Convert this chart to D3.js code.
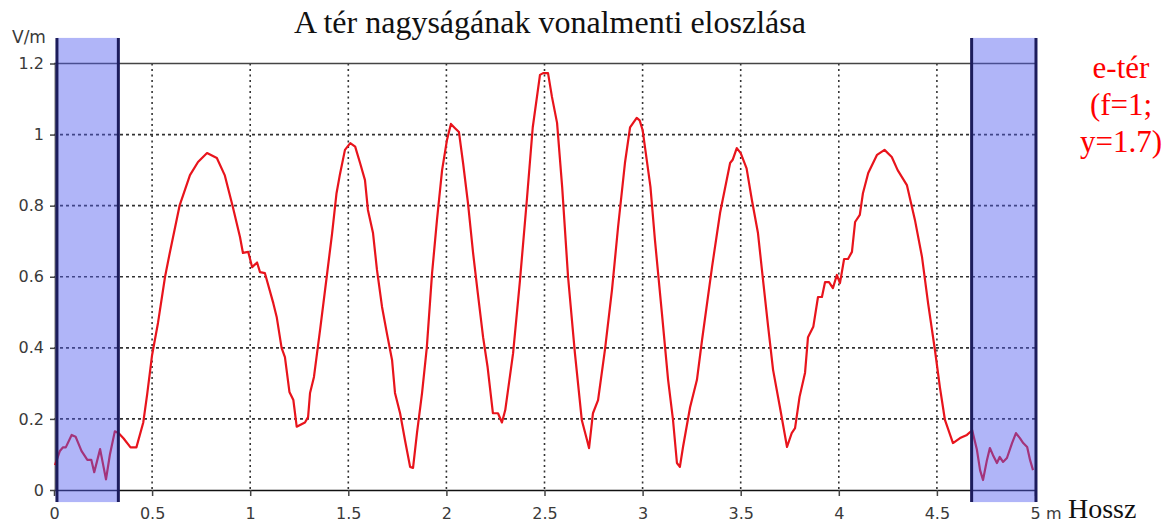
<!DOCTYPE html>
<html>
<head>
<meta charset="utf-8">
<script src="https://cdn.jsdelivr.net/npm/d3@7"></script>
<style>
body{margin:0;background:#fff;}
svg{display:block;}
.tick text{font-family:"DejaVu Sans",sans-serif;font-size:16px;fill:#3a3a3a;}
</style>
</head>
<body>
<svg></svg>
<script>
//measured curve (x in m, E in V/m)
var posM = [0.005,0.03,0.046,0.06,0.09,0.11,0.14,0.17,0.19,0.205,0.235,0.265,0.285,0.31,0.33,0.355,0.39,0.42,0.455,0.475,
0.5,0.53,0.566,0.59,0.64,0.693,0.734,0.78,0.83,0.87,0.91,0.948,0.963,0.99,1.01,1.035,1.05,1.075,1.118,1.135,
1.16,1.177,1.2,1.22,1.237,1.254,1.279,1.295,1.305,1.325,1.356,1.39,1.417,1.44,1.458,1.483,1.51,1.535,1.56,1.585,
1.6,1.626,1.646,1.672,1.697,1.723,1.738,1.764,1.789,1.815,1.83,1.85,1.876,1.9,1.927,1.952,1.978,2.003,2.023,2.044,
2.064,2.085,2.11,2.136,2.16,2.187,2.21,2.237,2.263,2.283,2.3,2.34,2.375,2.41,2.44,2.477,2.493,2.518,2.538,2.564,
2.59,2.62,2.655,2.69,2.717,2.727,2.747,2.773,2.808,2.844,2.875,2.91,2.936,2.97,2.985,3.0,3.04,3.063,3.098,3.13,
3.155,3.175,3.19,3.206,3.242,3.277,3.303,3.354,3.395,3.446,3.46,3.48,3.5,3.53,3.557,3.588,3.614,3.64,3.665,3.7,
3.736,3.76,3.777,3.8,3.828,3.843,3.87,3.894,3.914,3.93,3.95,3.97,3.99,4.006,4.027,4.047,4.067,4.083,4.107,4.123,
4.15,4.195,4.233,4.27,4.3,4.347,4.388,4.424,4.455,4.49,4.515,4.541,4.582,4.618,4.653,4.68,4.704,4.72,4.735,4.755,
4.77,4.786,4.806,4.82,4.837,4.857,4.883,4.903,4.923,4.94,4.96,4.975,4.99]
var fieldVm = [0.07,0.11,0.12,0.12,0.155,0.15,0.11,0.085,0.085,0.05,0.115,0.03,0.10,0.165,0.16,0.145,0.12,0.12,0.19,0.27,
0.38,0.47,0.60,0.667,0.80,0.886,0.923,0.948,0.934,0.886,0.80,0.712,0.667,0.67,0.627,0.64,0.613,0.61,0.525,0.487,
0.40,0.374,0.276,0.253,0.178,0.183,0.19,0.205,0.273,0.318,0.45,0.60,0.72,0.835,0.89,0.957,0.976,0.966,0.92,0.872,
0.788,0.723,0.62,0.515,0.44,0.366,0.273,0.216,0.14,0.065,0.062,0.16,0.273,0.40,0.61,0.76,0.90,0.985,1.03,1.018,
1.007,0.92,0.807,0.667,0.554,0.43,0.346,0.216,0.216,0.19,0.225,0.385,0.59,0.816,1.02,1.168,1.173,1.173,1.106,1.033,
0.853,0.60,0.385,0.197,0.14,0.118,0.216,0.253,0.394,0.563,0.74,0.92,1.02,1.047,1.04,1.013,0.853,0.703,0.50,0.31,
0.197,0.076,0.065,0.121,0.233,0.31,0.422,0.628,0.78,0.92,0.93,0.962,0.948,0.905,0.816,0.723,0.59,0.459,0.338,0.233,
0.121,0.16,0.174,0.262,0.33,0.43,0.459,0.543,0.543,0.585,0.585,0.568,0.605,0.582,0.65,0.65,0.67,0.754,0.774,0.835,
0.892,0.943,0.957,0.937,0.90,0.858,0.76,0.656,0.526,0.394,0.29,0.197,0.132,0.146,0.155,0.168,0.113,0.056,0.028,0.084,
0.118,0.098,0.076,0.093,0.079,0.09,0.132,0.16,0.146,0.132,0.121,0.084,0.056]

//shaded end zones
var bandStart = [0.015,4.677]
var bandEnd = [0.328,5.005]

var xTicks = [0,0.5,1,1.5,2,2.5,3,3.5,4,4.5,5]
var yTicks = [0,0.2,0.4,0.6,0.8,1,1.2]
var legendLines = ["e-tér","(f=1;","y=1.7)"]

var screen = {width:1172,height:526}
var plot = {left:54,right:1035,top:63.5,bottom:490}

var svg = d3.select("svg")
    .attr("width",screen.width)
    .attr("height",screen.height)

var xScale = d3.scaleLinear()
    .domain([0,5])
    .range([plot.left,plot.right])
var yScale = d3.scaleLinear()
    .domain([0,1.2])
    .range([plot.bottom,plot.top])

//grid
var grid = svg.append("g")
grid.selectAll(".vgrid")
    .data(xTicks.filter(function(d){return d>0 && d<5}))
    .enter()
    .append("line")
    .attr("x1",function(d){return xScale(d)})
    .attr("x2",function(d){return xScale(d)})
    .attr("y1",yScale(1.2))
    .attr("y2",yScale(0))
    .attr("stroke","#333")
    .attr("stroke-width",1.6)
    .attr("stroke-dasharray","2,3.5")
grid.selectAll(".hgrid")
    .data(yTicks.filter(function(d){return d>0 && d<1.2}))
    .enter()
    .append("line")
    .attr("x1",xScale(0))
    .attr("x2",xScale(5))
    .attr("y1",function(d){return yScale(d)})
    .attr("y2",function(d){return yScale(d)})
    .attr("stroke","#333")
    .attr("stroke-width",1.6)
    .attr("stroke-dasharray","3,3")

//frame line at top
svg.append("line")
    .attr("x1",xScale(0)).attr("x2",xScale(5))
    .attr("y1",yScale(1.2)).attr("y2",yScale(1.2))
    .attr("stroke","#444").attr("stroke-width",1.5)

//axes
var xAxis = d3.axisBottom(xScale)
    .tickValues(xTicks)
    .tickSize(6)
    .tickSizeOuter(0)
    .tickPadding(12)
    .tickFormat(function(d){return d3.format("~g")(d)})
var yAxis = d3.axisLeft(yScale)
    .tickValues(yTicks)
    .tickSize(5)
    .tickSizeOuter(0)
    .tickPadding(6)
    .tickFormat(function(d){return d3.format("~g")(d)})

var xg = svg.append("g")
    .attr("transform","translate(0,"+yScale(0)+")")
    .call(xAxis)
xg.select(".domain").attr("stroke","#111").attr("stroke-width",1.5)
xg.selectAll(".tick line").attr("stroke","#444").attr("stroke-width",1.5)

var yg = svg.append("g")
    .attr("transform","translate("+(xScale(0)+1)+",0)")
    .call(yAxis)
yg.select(".domain").attr("stroke","#777").attr("stroke-width",2)
yg.selectAll(".tick line").attr("stroke","#444").attr("stroke-width",1.5)

//curve
var points = posM.map(function(x,i){return [x,fieldVm[i]]})
var line = d3.line()
    .x(function(d){return xScale(d[0])})
    .y(function(d){return yScale(d[1])})
svg.append("path")
    .datum(points)
    .attr("d",line)
    .attr("fill","none")
    .attr("stroke","#e8141c")
    .attr("stroke-width",2.2)
    .attr("stroke-linejoin","round")

//bands
var bands = bandStart.map(function(s,i){return {s:s,e:bandEnd[i]}})
var bandG = svg.append("g")
bandG.selectAll("rect")
    .data(bands)
    .enter()
    .append("rect")
    .attr("x",function(b){return xScale(b.s)})
    .attr("width",function(b){return xScale(b.e)-xScale(b.s)})
    .attr("y",yScale(1.272))
    .attr("height",yScale(-0.034)-yScale(1.272))
    .attr("fill","rgb(80,90,240)")
    .attr("fill-opacity",0.45)
bandG.selectAll(".edge")
    .data(bands.reduce(function(a,b){return a.concat([b.s,b.e])},[]))
    .enter()
    .append("line")
    .attr("x1",function(d){return xScale(d)})
    .attr("x2",function(d){return xScale(d)})
    .attr("y1",yScale(1.272))
    .attr("y2",yScale(-0.034))
    .attr("stroke","#1c1c5c")
    .attr("stroke-width",3)

//labels
svg.append("text")
    .text("V/m")
    .attr("x",12)
    .attr("y",43)
    .style("font-family","DejaVu Sans, sans-serif")
    .style("font-size","17px")
    .attr("fill","#3a3a3a")

svg.append("text")
    .text("m")
    .attr("x",xScale(5)+11)
    .attr("y",519)
    .style("font-family","DejaVu Sans, sans-serif")
    .style("font-size","16px")
    .attr("fill","#3a3a3a")

svg.append("text")
    .text("Hossz")
    .attr("x",1068)
    .attr("y",518)
    .style("font-family","Liberation Serif, serif")
    .style("font-size","28px")
    .attr("fill","#111")

svg.append("text")
    .text("A tér nagyságának vonalmenti eloszlása")
    .attr("text-anchor","middle")
    .attr("x",550)
    .attr("y",33)
    .style("font-family","Liberation Serif, serif")
    .style("font-size","32px")
    .attr("fill","#111")

svg.append("g")
    .selectAll("text")
    .data(legendLines)
    .enter()
    .append("text")
    .text(function(d){return d})
    .attr("text-anchor","middle")
    .attr("x",1121)
    .attr("y",function(d,i){return 78+i*37})
    .style("font-family","Liberation Serif, serif")
    .style("font-size","31px")
    .attr("fill","#ff0000")
</script>
</body>
</html>
